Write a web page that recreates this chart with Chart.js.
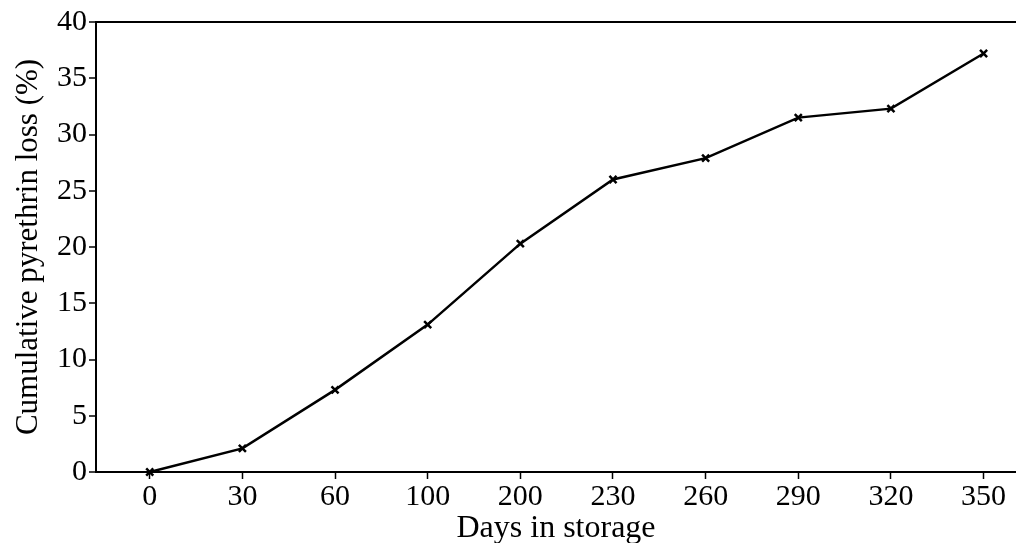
<!DOCTYPE html>
<html>
<head>
<meta charset="utf-8">
<script src="https://cdn.jsdelivr.net/npm/chart.js@4"></script>
<style>
  html, body { margin: 0; padding: 0; background: #fff; overflow: hidden; }
</style>
</head>
<body>
<canvas id="c" width="1016" height="543"></canvas>
<script>
// Data
const categories = ['0', '30', '60', '100', '200', '230', '260', '290', '320', '350'];
const lossValues = [0, 2.1, 7.3, 13.1, 20.3, 26.0, 27.9, 31.5, 32.3, 37.2];
const yTicks = [0, 5, 10, 15, 20, 25, 30, 35, 40];

const xTitle = 'Days in storage';
const yTitle = 'Cumulative pyrethrin loss (%)';

const FONT = "'Liberation Serif', 'Times New Roman', serif";

const points = categories.map((c, i) => ({ x: i, y: lossValues[i] }));

new Chart(document.getElementById('c'), {
  type: 'line',
  data: {
    datasets: [{
      data: points,
      borderColor: '#000',
      backgroundColor: '#000',
      borderWidth: 2.5,
      tension: 0,
      pointStyle: 'crossRot',
      pointRadius: 5,
      pointBorderWidth: 2.5,
      pointBorderColor: '#000',
      clip: false
    }]
  },
  options: {
    responsive: false,
    animation: false,
    devicePixelRatio: 1,
    layout: { autoPadding: false, padding: { top: 22, right: 0, left: 0, bottom: 0 } },
    plugins: { legend: { display: false }, tooltip: { enabled: false } },
    scales: {
      x: {
        type: 'linear',
        min: -0.58,
        max: 9.35,
        afterBuildTicks: (s) => { s.ticks = categories.map((_, i) => ({ value: i })); },
        afterFit: (s) => { s.height = 71; s.paddingRight = 0; s.paddingLeft = 0; },
        ticks: {
          callback: (v) => categories[v],
          color: '#000',
          font: { family: FONT, size: 30 },
          padding: 0,
          maxRotation: 0,
          autoSkip: false
        },
        grid: { color: 'transparent', tickColor: '#000', tickLength: 7, tickWidth: 1.5 },
        border: { color: '#000', width: 2 },
        title: {
          display: true,
          text: xTitle,
          color: '#000',
          font: { family: FONT, size: 32 },
          padding: { top: 0, bottom: -5 }
        }
      },
      y: {
        min: 0,
        max: 40,
        afterBuildTicks: (s) => { s.ticks = yTicks.map(v => ({ value: v })); },
        afterFit: (s) => { s.width = 96; },
        ticks: {
          color: '#000',
          font: { family: FONT, size: 30 },
          padding: 2
        },
        grid: {
          color: (ctx) => (ctx.tick && ctx.tick.value === 40) ? '#000' : 'transparent',
          lineWidth: 2,
          tickColor: '#000',
          tickLength: 7,
          tickWidth: 1.5
        },
        border: { color: '#000', width: 2 },
        title: {
          display: true,
          text: yTitle,
          color: '#000',
          font: { family: FONT, size: 31 },
          padding: { top: 10, bottom: 0 }
        }
      }
    }
  }
});
</script>
</body>
</html>
